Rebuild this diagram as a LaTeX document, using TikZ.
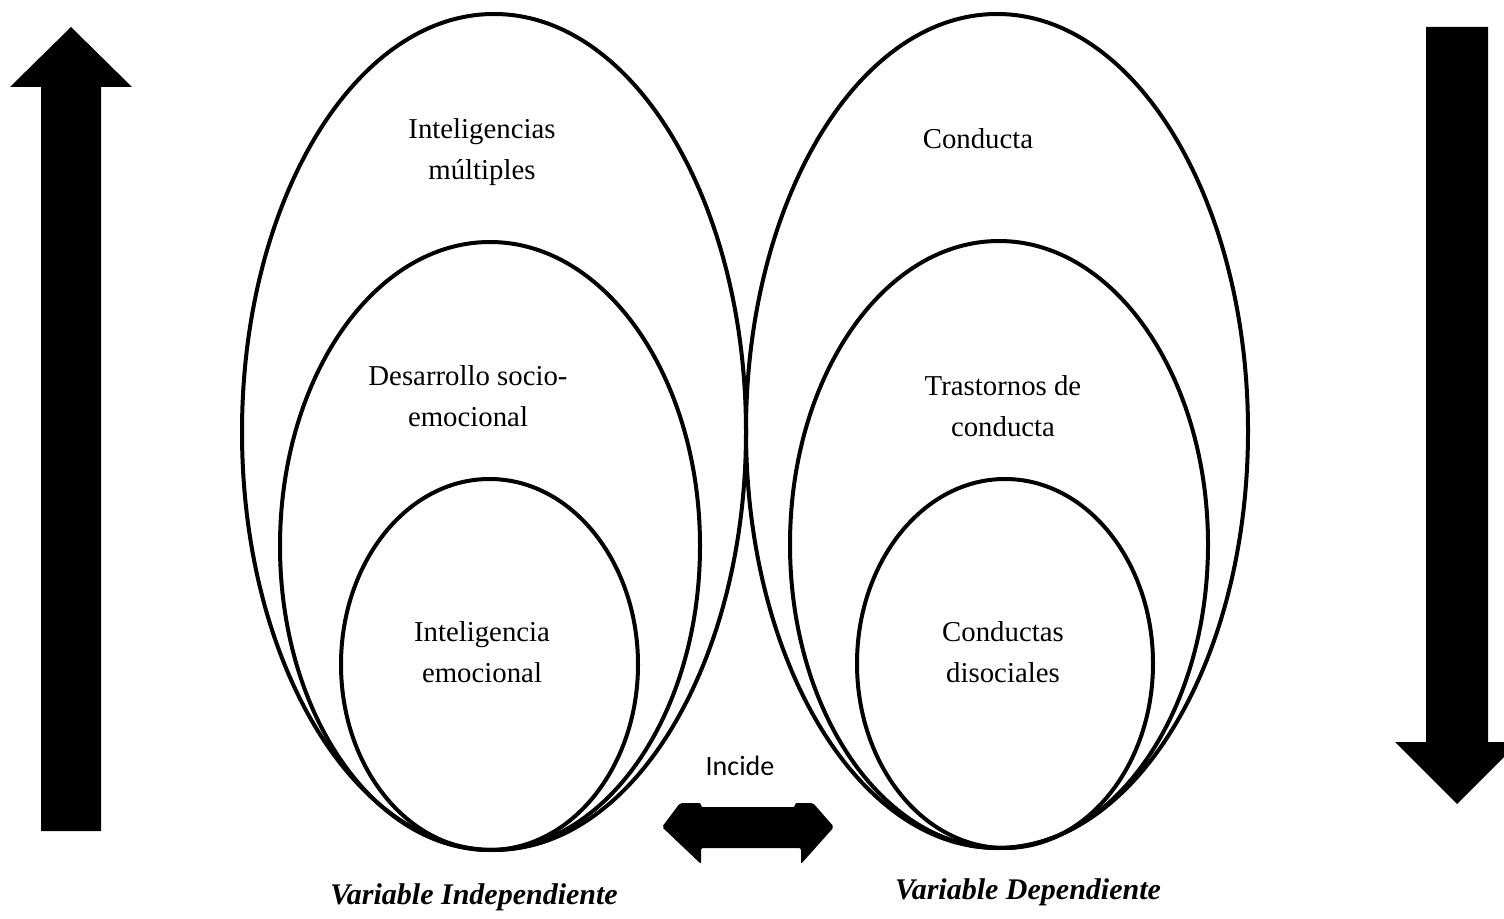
\documentclass[tikz,border=0pt]{standalone}
\usepackage{fontspec}
\setmainfont{Liberation Serif}
\newfontfamily\calib{Carlito}
\begin{document}
\begin{tikzpicture}[x=0.5pt,y=-0.5pt,
  ring/.style={draw=black, line width=2pt},
  blockarrow/.style={fill=black, draw=none},
  lbl/.style={align=center, inner sep=0pt, font=\fontsize{14.4pt}{20.25pt}\selectfont},
  varlbl/.style={inner sep=0pt, font=\fontsize{15pt}{18pt}\selectfont\bfseries\itshape},
  small/.style={inner sep=0pt, font=\fontsize{14pt}{17pt}\selectfont\calib}]
\useasboundingbox (0,0) rectangle (1504,919);

% left column of ellipses
\draw[ring] (494,432) ellipse [x radius=126pt, y radius=209pt];
\draw[ring] (490,546) ellipse [x radius=105pt, y radius=152pt];
\draw[ring] (489.5,664.5) ellipse [x radius=74.25pt, y radius=92.75pt];
% right column of ellipses
\draw[ring] (997,431) ellipse [x radius=125.5pt, y radius=208.5pt];
\draw[ring] (999,544.5) ellipse [x radius=104.5pt, y radius=151.75pt];
\draw[ring] (1005,663.5) ellipse [x radius=74pt, y radius=92.25pt];

% labels
\node[lbl] (im) at (482,152) {Inteligencias\\múltiples};
\node[lbl] (dse) at (468,396) {Desarrollo socio-\\emocional};
\node[lbl] (ie) at (482,652) {Inteligencia\\emocional};
\node[lbl] (co) at (978,139) {Conducta};
\node[lbl] (tc) at (1003,406) {Trastornos de\\conducta};
\node[lbl] (cd) at (1003,652) {Conductas\\disociales};
\node[small] (inc) at (740,766) {Incide};
\node[varlbl] (vi) at (474,897) {Variable Independiente};
\node[varlbl] (vd) at (1028,892) {Variable Dependiente};

% big vertical arrows
\fill[blockarrow] (41,831) -- (41,87) -- (10,87) -- (71,27) -- (132,87) -- (101,87) -- (101,831) -- cycle;
\fill[blockarrow] (1426,27) -- (1488,27) -- (1488,742) -- (1519,742) -- (1457,804) -- (1395,742) -- (1426,742) -- cycle;

% double arrow
\fill[blockarrow, rounded corners=1pt] (680,803) -- (701,803) -- (701,807) -- (795,807) -- (795,803) -- (813,803) -- (834,827) -- (801,864) -- (801,848) -- (701,848) -- (701,864) -- (662,827) -- cycle;
\end{tikzpicture}
\end{document}
